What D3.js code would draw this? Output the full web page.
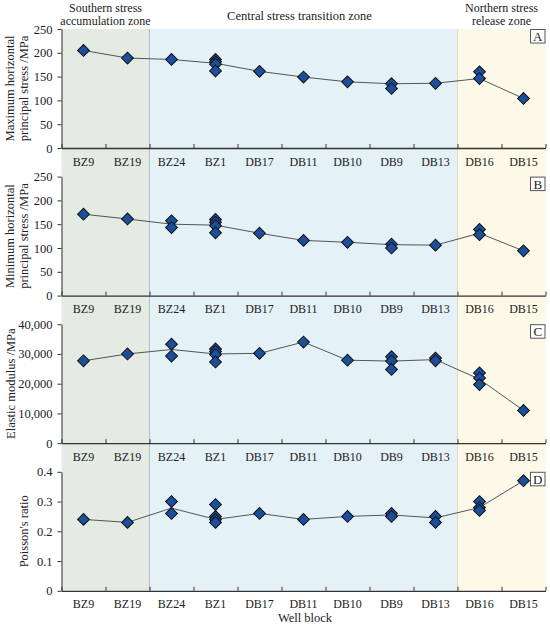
<!DOCTYPE html>
<html>
<head>
<meta charset="utf-8">
<script src="https://cdn.jsdelivr.net/npm/d3@7"></script>
<style>
  body { margin: 0; background: #fff; }
  svg text { font-family: "Liberation Serif", "Times New Roman", serif; fill: #222; }
</style>
</head>
<body>
<script>
// well blocks, south to north
var wells = ["BZ9", "BZ19", "BZ24", "BZ1", "DB17", "DB11", "DB10", "DB9", "DB13", "DB16", "DB15"];

// zones: name lines, first and last well index
var zoneNames = [["Southern stress", "accumulation zone"], ["Central stress transition zone"], ["Northern stress", "release zone"]];
var zoneStart = [0, 2, 9];
var zoneEnd = [2, 9, 11];
var zoneColors = ["#e3ebe2", "#e4f1f7", "#fcf9e8"];

// A - maximum horizontal principal stress (MPa)
var maxStressPts = [[205], [189], [186], [186, 181, 176, 162], [161], [149], [139], [135, 125], [136], [160, 146], [104]];
var maxStressLine = [205, 189, 186, 178, 161, 149, 139, 135, 136, 146, 104];

// B - minimum horizontal principal stress (MPa)
var minStressPts = [[171], [161], [157, 143], [160, 154, 147, 132], [131], [116], [112], [108, 100], [106], [139, 128], [94]];
var minStressLine = [171, 161, 150, 148, 131, 116, 112, 107, 106, 131, 94];

// C - elastic modulus (MPa)
var modulusPts = [[27700], [30000], [33300, 29300], [31700, 30800, 29800, 27300], [30200], [34000], [27900],
  [29100, 27600, 24800], [28600, 27700], [23600, 21900, 19700], [11000]];
var modulusLine = [27700, 30000, 31500, 30000, 30200, 34000, 27900, 27600, 28100, 21500, 11000];

// D - Poisson's ratio
var poissonPts = [[0.24], [0.23], [0.30, 0.26], [0.29, 0.25, 0.24, 0.23], [0.26], [0.24], [0.25],
  [0.26, 0.25], [0.25, 0.23], [0.30, 0.28, 0.27], [0.37]];
var poissonLine = [0.24, 0.23, 0.278, 0.24, 0.26, 0.24, 0.25, 0.255, 0.245, 0.28, 0.37];

var panels = [
  { letter: "A", title: ["Maximum horizontal", "principal stress /MPa"], max: 250, ticks: [0, 50, 100, 150, 200, 250], pts: maxStressPts, line: maxStressLine, fmt: d3.format("d") },
  { letter: "B", title: ["Minimum horizontal", "principal stress /MPa"], max: 250, ticks: [0, 50, 100, 150, 200, 250], pts: minStressPts, line: minStressLine, fmt: d3.format("d") },
  { letter: "C", title: ["Elastic modulus /MPa"], max: 40000, ticks: [0, 10000, 20000, 30000, 40000], pts: modulusPts, line: modulusLine, fmt: d3.format(",") },
  { letter: "D", title: ["Poisson's ratio"], max: 0.4, ticks: [0, 0.1, 0.2, 0.3, 0.4], pts: poissonPts, line: poissonLine, fmt: function (d) { return d === 0 ? "0" : d3.format(".1f")(d); } }
];

var width = 550;
var height = 628;
var left = 61.5;
var right = 545.5;
var top0 = 29;
var panelH = 119;
var step = 147.6;

var svg = d3.select("body").append("svg")
  .attr("width", width)
  .attr("height", height);

var x = d3.scaleBand().domain(wells).range([left, right]).padding(0);
var xEdge = d3.scaleLinear().domain([0, wells.length]).range([left, right]);

var shadeBottom = top0 + 3 * step + panelH;

// zone backgrounds, one strip through all four panels
svg.selectAll("rect.zone")
  .data(zoneColors)
  .enter().append("rect")
  .attr("class", "zone")
  .attr("x", function (d, i) { return xEdge(zoneStart[i]); })
  .attr("y", top0)
  .attr("width", function (d, i) { return xEdge(zoneEnd[i]) - xEdge(zoneStart[i]); })
  .attr("height", shadeBottom - top0)
  .attr("fill", function (d) { return d; });

svg.selectAll("line.zoneEdge")
  .data([2, 9])
  .enter().append("line")
  .attr("x1", function (d) { return xEdge(d); })
  .attr("x2", function (d) { return xEdge(d); })
  .attr("y1", top0)
  .attr("y2", shadeBottom)
  .attr("stroke", function (d, i) { return i === 0 ? "#bcbcbc" : "#e2dbc4"; })
  .attr("stroke-width", 1);

// zone titles
zoneNames.forEach(function (lines, i) {
  var cx = (xEdge(zoneStart[i]) + xEdge(zoneEnd[i])) / 2;
  if (lines.length === 1) {
    svg.append("text")
      .attr("text-anchor", "middle")
      .attr("font-size", 12.5)
      .attr("x", cx - 4).attr("y", 20).text(lines[0]);
  } else {
    lines.forEach(function (s, j) {
      svg.append("text")
        .attr("text-anchor", "middle")
        .attr("font-size", 12)
        .attr("x", cx).attr("y", 11.5 + j * 13.5).text(s);
    });
  }
});

var diamond = d3.symbol().type(d3.symbolSquare).size(70);

panels.forEach(function (p, k) {
  var top = top0 + k * step;
  var bottom = top + panelH;
  var y = d3.scaleLinear().domain([0, p.max]).range([bottom, top]);

  var g = svg.append("g");

  // y axis
  var ya = g.append("g")
    .attr("transform", `translate(${left} 0)`)
    .call(d3.axisLeft(y).tickValues(p.ticks).tickSize(4).tickSizeOuter(0).tickFormat(p.fmt));
  ya.select(".domain").attr("stroke", "#333");
  ya.selectAll(".tick line").attr("stroke", "#333");
  ya.selectAll(".tick text")
    .attr("font-family", "Liberation Serif")
    .attr("font-size", 12.5)
    .attr("fill", "#222")
    .attr("x", -9);

  // x axis, ticks between well blocks pointing up
  var xa = g.append("g")
    .attr("transform", `translate(0 ${bottom})`)
    .call(d3.axisBottom(xEdge).ticks(wells.length).tickSize(-4).tickSizeOuter(0).tickFormat(""));
  xa.select(".domain").attr("stroke", "#333").attr("stroke-width", 1.3);
  xa.selectAll(".tick line").attr("stroke", "#333");

  g.selectAll("text.well")
    .data(wells)
    .enter().append("text")
    .attr("class", "well")
    .attr("x", function (d) { return x(d) + x.bandwidth() / 2; })
    .attr("y", bottom + 17.5)
    .attr("text-anchor", "middle")
    .attr("font-size", 12)
    .text(function (d) { return d; });

  // axis title
  var tx = p.title.length === 2 ? 14 : (k === 2 ? 15 : 28);
  p.title.forEach(function (s, j) {
    g.append("text")
      .attr("transform", `translate(${tx + j * 14} ${(top + bottom) / 2}) rotate(-90)`)
      .attr("text-anchor", "middle")
      .attr("font-size", 12.5)
      .text(s);
  });

  // connecting line through the block values
  var line = d3.line()
    .x(function (d, i) { return x(wells[i]) + x.bandwidth() / 2; })
    .y(function (d) { return y(d); });
  g.append("path")
    .datum(p.line)
    .attr("d", line)
    .attr("fill", "none")
    .attr("stroke", "#555")
    .attr("stroke-width", 1);

  // measured points
  var flat = [];
  p.pts.forEach(function (vals, i) {
    vals.forEach(function (v) { flat.push({ well: wells[i], v: v }); });
  });
  g.selectAll("path.pt")
    .data(flat)
    .enter().append("path")
    .attr("class", "pt")
    .attr("d", diamond)
    .attr("transform", function (d) {
      return `translate(${x(d.well) + x.bandwidth() / 2} ${y(d.v)}) rotate(45)`;
    })
    .attr("fill", "#1b4f9c")
    .attr("stroke", "#111")
    .attr("stroke-width", 1);

  // panel letter
  g.append("rect")
    .attr("x", right - 15)
    .attr("y", top + 0.5)
    .attr("width", 14.5)
    .attr("height", 13.5)
    .attr("fill", "#fff")
    .attr("stroke", "#555")
    .attr("stroke-width", 1);
  g.append("text")
    .attr("x", right - 7.75)
    .attr("y", top + 12)
    .attr("text-anchor", "middle")
    .attr("font-size", 13)
    .text(p.letter);
});

svg.append("text")
  .attr("x", 305)
  .attr("y", 621.5)
  .attr("text-anchor", "middle")
  .attr("font-size", 12.5)
  .text("Well block");
</script>
</body>
</html>
